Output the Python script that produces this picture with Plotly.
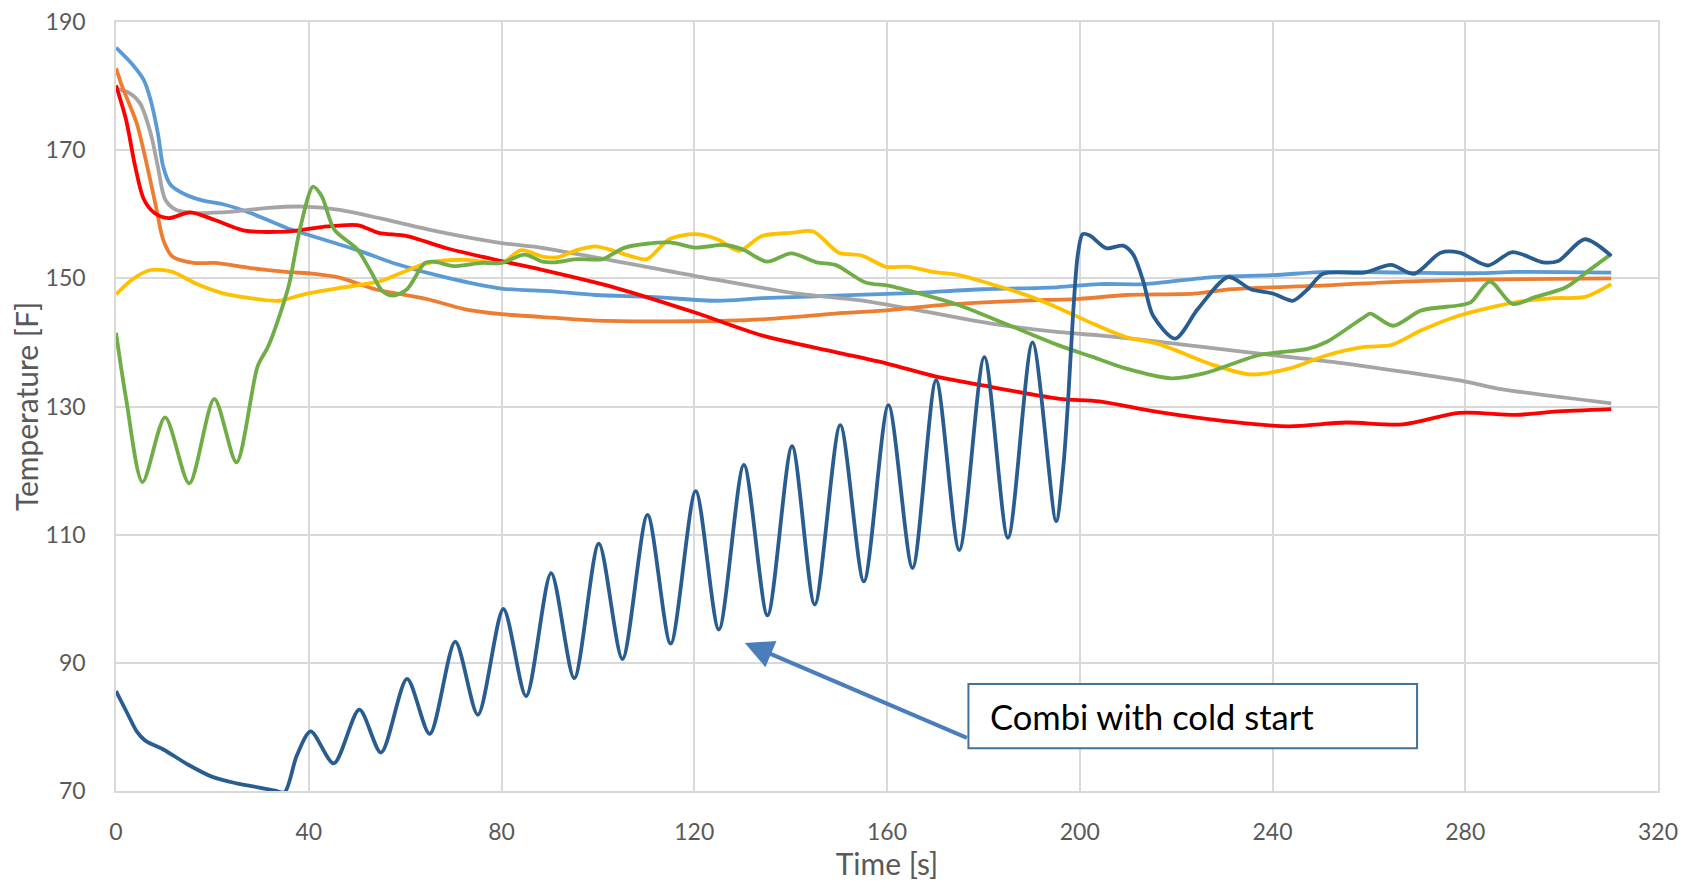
import plotly.graph_objects as go

# ---------------- data ----------------
blue_t = [0, 3.5, 5.8, 7.2, 8.7, 9.8, 11.3, 14.6, 18.3, 22.0, 27.9, 35.3, 39.9, 50.1, 57.5, 68.6, 80, 90,
          99.5, 111, 124.8, 134, 149.3, 164.6, 179.9, 195.2, 204, 213.5, 227.6, 240, 251.3, 267, 282.8, 290.6, 310.3]
blue_v = [186.0, 183.3, 180.9, 177.8, 172.6, 167.4, 164.6, 163.0, 162.1, 161.6, 160.2, 157.9, 156.8, 154.4, 152.4, 150.1, 148.4, 148.0,
          147.4, 147.1, 146.5, 146.9, 147.3, 147.7, 148.3, 148.6, 149.1, 149.1, 150.2, 150.5, 151.0, 150.9, 150.8, 151.0, 150.9]

orange_t = [0, 1.3, 4.3, 6.5, 8.3, 9.8, 11.7, 16.1, 20.5, 27.9, 35.3, 41.2, 46.4, 53.8, 64.9, 72.2, 80, 88,
            99.5, 118.6, 134, 149.3, 160, 172.3, 187.6, 200, 209.7, 223.7, 231.6, 251.3, 267, 282.8, 310.3]
orange_v = [182.8, 179.9, 174.2, 167.4, 161.2, 156.0, 153.4, 152.4, 152.4, 151.6, 151.0, 150.7, 150.1, 148.3, 146.7, 145.2, 144.4, 144.0,
            143.4, 143.3, 143.6, 144.5, 145.0, 145.9, 146.5, 146.8, 147.4, 147.6, 148.3, 148.9, 149.5, 149.8, 150.0]

gray_t = [0, 2.8, 5.0, 7.2, 8.7, 10.2, 12.4, 16.1, 24.2, 31.6, 39.0, 46.4, 57.5, 64.9, 80, 88, 120, 141.6,
          154.2, 168.1, 182, 195.8, 204, 216.6, 240, 255.2, 280, 286.7, 310.3]
gray_v = [179.6, 178.9, 177.3, 172.6, 167.4, 162.3, 160.7, 160.2, 160.4, 161.0, 161.2, 160.7, 158.9, 157.6, 155.5, 154.8, 150.4, 147.6,
          146.6, 144.8, 142.9, 141.6, 141.1, 140.1, 138.0, 136.7, 133.9, 132.8, 130.5]

yellow_t = [0, 3.5, 7.2, 11.7, 16.8, 22.0, 27.9, 33.8, 39.0, 46.4, 54.5, 59.0, 64.9, 72.2, 80, 84.1, 88.5, 91.8,
            95.6, 99.5, 103.3, 107.1, 110.2, 114.8, 120, 124.8, 129.3, 134, 140.1, 144.7, 150, 154.6, 159.8, 164.6,
            169.5, 175, 182, 188.9, 195.8, 202.8, 209.7, 216.6, 227.6, 235.5, 243.4, 251.3, 259.1, 264.6, 270.9,
            278.8, 290.6, 298.5, 304.8, 310.3]
yellow_v = [147.5, 149.9, 151.3, 151.0, 149.1, 147.7, 146.9, 146.5, 147.5, 148.5, 149.5, 150.8, 152.4, 152.9, 152.4, 154.4, 153.4, 153.3,
            154.4, 155.0, 154.3, 153.4, 153.0, 156.1, 156.9, 156.1, 154.3, 156.6, 157.1, 157.3, 154.0, 153.6, 151.8, 151.8,
            151.0, 150.5, 149.0, 147.4, 145.3, 142.9, 140.8, 139.7, 136.5, 135.0, 135.9, 138.0, 139.3, 139.6, 141.9,
            144.2, 146.3, 146.9, 147.1, 149.1]

green_t = [0, 2.1, 5.5, 10.2, 15.2, 20.4, 25.0, 29.4, 31.6, 34.6, 36.0, 38.3, 40.9, 42.7, 45.3, 50.1, 53.0, 55.3,
           57.5, 60.4, 64.1, 66, 70, 75.9, 80, 84.8, 88.5, 91, 95.6, 101, 105.6, 114.8, 120.2, 126.3, 130.1, 135.1,
           140.1, 145.4, 149.3, 155.4, 160.7, 168.4, 175, 182, 188.9, 195.8, 202.8, 209.7, 219, 226, 237.1, 247.3,
           251.3, 259.1, 260.3, 265.0, 270.9, 278.8, 281.2, 285.1, 289.8, 294.6, 300.9, 305.6, 310.3]
green_v = [141.5, 131.2, 118.2, 128.3, 118.0, 131.2, 121.3, 136.3, 139.4, 145.7, 149.3, 158.1, 164.3, 162.8, 157.6, 154.5, 150.9, 148.0,
           147.3, 148.3, 152.4, 152.6, 151.9, 152.4, 152.4, 153.7, 152.6, 152.5, 153.0, 153.0, 154.8, 155.6, 154.8, 155.2, 154.5, 152.6,
           153.9, 152.5, 152.1, 149.4, 148.8, 147.3, 145.8, 143.7, 141.6, 139.5, 137.7, 135.9, 134.4, 135.2, 138.0, 139.0,
           140.1, 144.0, 144.5, 142.6, 145.0, 145.8, 146.3, 149.5, 146.0, 147.1, 148.6, 151.2, 153.8]

red_t = [0, 2.1, 4.0, 5.8, 8.0, 10.9, 15.4, 20.5, 26.4, 35.3, 42.7, 50.1, 54.5, 60.4, 68.6, 80, 88, 103.3,
         120, 134, 149.3, 160, 170, 182, 195.8, 204, 215.8, 231.6, 243.4, 255.2, 267, 278.8, 290.6, 298.5, 310.3]
red_v = [180.1, 174.7, 167.4, 162.3, 160.2, 159.4, 160.3, 159.1, 157.5, 157.3, 158.0, 158.3, 157.1, 156.6, 154.7, 152.7, 151.4, 148.6,
         144.7, 141.1, 138.5, 136.7, 134.7, 133.0, 131.2, 130.8, 129.2, 127.6, 126.9, 127.5, 127.2, 129.0, 128.7, 129.2, 129.6]

combi_t = [0, 2.5, 4.3, 6, 10, 15, 20, 25, 30, 33, 35, 37.5,
           40.4, 45.2, 50.5, 55.0, 60.4, 65.1, 70.4, 75.1, 80.4, 85.1, 90.3, 95.1, 100.2, 105.1, 110.3, 115.1,
           120.3, 125.1, 130.3, 135.2, 140.3, 145.0, 150.3, 155.2, 160.3, 165.3, 170.2, 175.0, 180.2, 185.1,
           190.2, 195.1, 196.6, 197.6, 198.6, 199.6, 200.6, 202.1, 205.5, 209.0, 211.1, 213.2, 215.2, 219.8,
           224.5, 230.8, 235.5, 240.2, 244.2, 247.3, 250.5, 259.1, 264.6, 269.4, 274.9, 278.8, 284.7, 289.8,
           296.1, 299.3, 304.8, 310.3]
combi_v = [85.6, 81.9, 79.3, 77.9, 76.4, 74.1, 72.2, 71.2, 70.5, 70.05, 69.8, 75.5,
           79.3, 74.3, 82.7, 76.0, 87.5, 78.9, 93.3, 81.9, 98.4, 84.8, 104.0, 87.6, 108.6, 90.6, 113.1, 93.0,
           116.8, 95.2, 120.9, 97.4, 123.8, 99.1, 127.1, 102.7, 130.2, 104.8, 134.1, 107.6, 137.7, 109.5,
           140.0, 112.1, 120.7, 131.2, 144.2, 153.7, 156.9, 156.7, 154.7, 155.1, 153.7, 149.5, 144.2, 140.6,
           145.2, 150.2, 148.3, 147.6, 146.5, 148.3, 150.7, 150.9, 152.1, 150.7, 154.0, 154.0, 152.0, 154.1,
           152.5, 152.7, 156.1, 153.5]

x_ticks = [0, 40, 80, 120, 160, 200, 240, 280, 320]
y_ticks = [70, 90, 110, 130, 150, 170, 190]
annotation_text = "Combi with cold start"

# ---------------- figure ----------------
# drawing order (last on top)
series = [
    ("Series 1", blue_t, blue_v, "#5B9BD5"),
    ("Series 3", gray_t, gray_v, "#A5A5A5"),
    ("Series 2", orange_t, orange_v, "#ED7D31"),
    ("Series 4", yellow_t, yellow_v, "#FFC000"),
    ("Series 6", red_t, red_v, "#FF0000"),
    ("Series 5", green_t, green_v, "#70AD47"),
    (annotation_text, combi_t, combi_v, "#2A5D8F"),
]

fig = go.Figure()
for name, t, v, c in series:
    fig.add_trace(go.Scatter(x=t, y=v, mode="lines", name=name,
                             line=dict(color=c, width=3.8, shape="spline", smoothing=0.8)))

grid = "#D9D9D9"
tick_font = dict(family="Lato", size=23, color="#595959")
title_font = dict(family="Lato", size=30, color="#595959")

# the page body adds an 8px offset; compensate so the plot lands where the reference has it
fig.update_layout(
    width=1680, height=873,
    margin=dict(l=108, r=30, t=14, b=90),
    paper_bgcolor="white", plot_bgcolor="white",
    showlegend=False,
    font=dict(family="Lato"),
)
fig.update_xaxes(range=[0, 320], tickvals=x_ticks, ticktext=[str(v) for v in x_ticks],
                 showgrid=True, gridcolor=grid, gridwidth=1.5, zeroline=False,
                 showline=True, linecolor=grid, linewidth=1.5, mirror=True,
                 ticks="", tickfont=tick_font, ticklabelstandoff=20, ticklabeloverflow="allow",
                 title=dict(text="Time [s]", font=title_font, standoff=18), automargin=False)
fig.update_yaxes(range=[70, 190], tickvals=y_ticks, ticktext=[str(v) for v in y_ticks],
                 showgrid=True, gridcolor=grid, gridwidth=1.5, zeroline=False,
                 showline=True, linecolor=grid, linewidth=1.5, mirror=True,
                 ticks="", tickfont=tick_font, ticklabelstandoff=24, ticklabeloverflow="allow",
                 title=dict(text="Temperature [F]", font=title_font, standoff=17), automargin=False)

# callout box
fig.add_shape(type="rect", xref="x", yref="y", x0=176.9, x1=270.0, y0=76.66, y1=86.70,
              line=dict(color="#41719C", width=2), fillcolor="white", layer="above")
fig.add_annotation(x=180.9, y=81.7, xref="x", yref="y", text=annotation_text, showarrow=False,
                   xanchor="left", yanchor="middle", font=dict(family="Lato", size=34.5, color="#000000"))
# arrow
fig.add_annotation(x=130.5, y=93.1, xref="x", yref="y", ax=176.9, ay=78.2, axref="x", ayref="y",
                   text="", showarrow=True, arrowhead=2, arrowsize=1.35, arrowwidth=4.2,
                   arrowcolor="#4A7EBB")

fig.write_html("out.html")
